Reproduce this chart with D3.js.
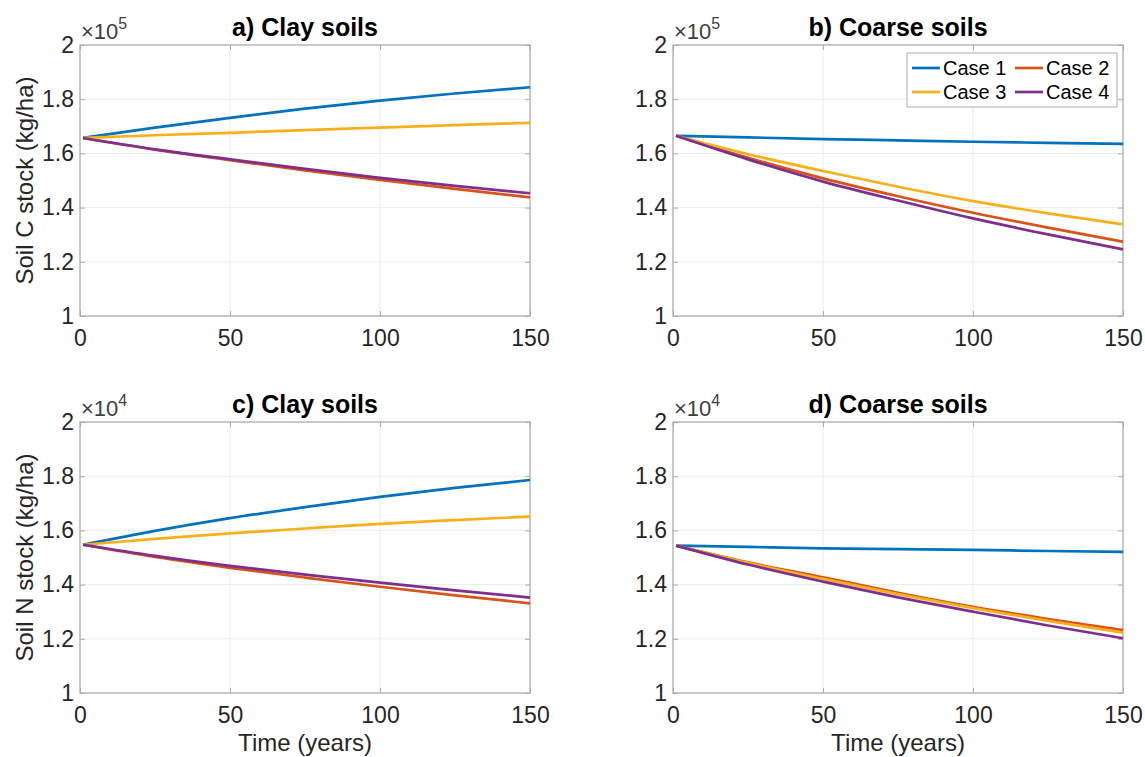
<!DOCTYPE html>
<html>
<head>
<meta charset="utf-8">
<script src="https://cdn.jsdelivr.net/npm/d3@7"></script>
<style>
  html, body { margin: 0; padding: 0; background: #fff; }
  svg { display: block; font-family: "Liberation Sans", Arial, Helvetica, sans-serif; }
</style>
</head>
<body>
<script>
// ---------------- DATA ----------------
const years = [1, 25, 50, 75, 100, 125, 150];
const caseNames = ["Case 1", "Case 2", "Case 3", "Case 4"];
const caseColors = ["#0072BD", "#D95319", "#F7B01C", "#7E2F8E"];
const panelTitles = ["a) Clay soils", "b) Coarse soils", "c) Clay soils", "d) Coarse soils"];
const panelExponents = [5, 5, 4, 4];
const yTickValues = [1, 1.2, 1.4, 1.6, 1.8, 2];
const xTickValues = [0, 50, 100, 150];
const yLabels = ["Soil C stock (kg/ha)", "", "Soil N stock (kg/ha)", ""];
const xLabel = "Time (years)";

// values shown in units of 10^exponent
const clayC_case1 = [1.657, 1.695, 1.731, 1.765, 1.795, 1.821, 1.844];
const clayC_case2 = [1.657, 1.614, 1.575, 1.537, 1.502, 1.469, 1.438];
const clayC_case3 = [1.657, 1.667, 1.676, 1.686, 1.695, 1.704, 1.713];
const clayC_case4 = [1.657, 1.615, 1.578, 1.543, 1.510, 1.480, 1.453];

const coarseC_case1 = [1.665, 1.659, 1.653, 1.648, 1.643, 1.639, 1.635];
const coarseC_case2 = [1.665, 1.584, 1.508, 1.442, 1.381, 1.326, 1.274];
const coarseC_case3 = [1.665, 1.597, 1.535, 1.477, 1.424, 1.379, 1.338];
const coarseC_case4 = [1.665, 1.578, 1.496, 1.426, 1.360, 1.301, 1.246];

const clayN_case1 = [1.547, 1.598, 1.645, 1.686, 1.724, 1.757, 1.786];
const clayN_case2 = [1.547, 1.502, 1.462, 1.426, 1.392, 1.360, 1.331];
const clayN_case3 = [1.547, 1.569, 1.589, 1.607, 1.624, 1.638, 1.651];
const clayN_case4 = [1.547, 1.506, 1.469, 1.437, 1.407, 1.379, 1.352];

const coarseN_case1 = [1.544, 1.539, 1.534, 1.531, 1.528, 1.524, 1.521];
const coarseN_case2 = [1.544, 1.482, 1.427, 1.370, 1.318, 1.273, 1.232];
const coarseN_case3 = [1.544, 1.480, 1.421, 1.365, 1.313, 1.266, 1.223];
const coarseN_case4 = [1.544, 1.474, 1.411, 1.353, 1.300, 1.249, 1.202];

const panelSeries = [
  [clayC_case1, clayC_case2, clayC_case3, clayC_case4],
  [coarseC_case1, coarseC_case2, coarseC_case3, coarseC_case4],
  [clayN_case1, clayN_case2, clayN_case3, clayN_case4],
  [coarseN_case1, coarseN_case2, coarseN_case3, coarseN_case4]
];

// ---------------- LAYOUT ----------------
const W = 1145, H = 757;
const colLeft = [80, 673], rowTop = [45, 422];
const pw = 450, ph = 271;
const textColor = "#262626";
const boxColor = "#ababab";
const gridColor = "#ebebeb";

const svg = d3.select("body").append("svg").attr("width", W).attr("height", H);

panelSeries.forEach((series, i) => {
  const left = colLeft[i % 2], top = rowTop[Math.floor(i / 2)];
  const x = d3.scaleLinear().domain([0, 150]).range([left, left + pw]);
  const y = d3.scaleLinear().domain([1, 2]).range([top + ph, top]);
  const g = svg.append("g");

  // grid
  g.append("g").selectAll("line").data(xTickValues).join("line")
    .attr("x1", d => x(d)).attr("x2", d => x(d)).attr("y1", top).attr("y2", top + ph)
    .attr("stroke", gridColor).attr("stroke-width", 1);
  g.append("g").selectAll("line").data(yTickValues).join("line")
    .attr("y1", d => y(d)).attr("y2", d => y(d)).attr("x1", left).attr("x2", left + pw)
    .attr("stroke", gridColor).attr("stroke-width", 1);

  // axes
  const fmt = d => d3.format("")(+d.toFixed(1));
  const ax = [
    g.append("g").attr("transform", `translate(0,${top + ph})`)
      .call(d3.axisBottom(x).tickValues(xTickValues).tickSize(-5).tickPadding(14).tickFormat(d3.format("d"))),
    g.append("g").attr("transform", `translate(${left},0)`)
      .call(d3.axisLeft(y).tickValues(yTickValues).tickSize(-5).tickPadding(6).tickFormat(fmt)),
    g.append("g").attr("transform", `translate(0,${top})`)
      .call(d3.axisTop(x).tickValues(xTickValues).tickSize(-5).tickFormat("")),
    g.append("g").attr("transform", `translate(${left + pw},0)`)
      .call(d3.axisRight(y).tickValues(yTickValues).tickSize(-5).tickFormat(""))
  ];
  ax.forEach(a => {
    a.select(".domain").remove();
    a.selectAll(".tick line").attr("stroke", boxColor);
    a.selectAll(".tick text").attr("fill", textColor).style("font-size", "23px")
      .style("font-family", '"Liberation Sans", Arial, Helvetica, sans-serif');
  });

  // box
  g.append("rect").attr("x", left).attr("y", top).attr("width", pw).attr("height", ph)
    .attr("fill", "none").attr("stroke", boxColor).attr("stroke-width", 1.2);

  // lines
  const line = d3.line().x((d, k) => x(years[k])).y(d => y(d)).curve(d3.curveMonotoneX);
  series.forEach((s, k) => {
    g.append("path").datum(s).attr("d", line).attr("fill", "none")
      .attr("stroke", caseColors[k]).attr("stroke-width", 2.7).attr("stroke-linejoin", "round");
  });

  // exponent label
  const ex = g.append("text").attr("x", left + 1).attr("y", top - 6)
    .attr("fill", "#404040").attr("font-size", 22);
  ex.append("tspan").attr("font-size", 22).text("\u00d710");
  ex.append("tspan").attr("dy", -10).attr("font-size", 16).text(panelExponents[i]);

  // title
  g.append("text").attr("x", left + pw / 2).attr("y", top - 9).attr("text-anchor", "middle")
    .attr("fill", "#000").style("font-size", "25px").style("font-weight", "bold").text(panelTitles[i]);

  // y label
  if (yLabels[i]) {
    g.append("text").attr("transform", `translate(25,${top + ph / 2}) rotate(-90)`)
      .attr("text-anchor", "middle").attr("dy", "0.35em").attr("fill", textColor)
      .style("font-size", "24px").text(yLabels[i]);
  }
  // x label
  if (i >= 2) {
    g.append("text").attr("x", left + pw / 2).attr("y", top + ph + 58).attr("text-anchor", "middle")
      .attr("fill", textColor).style("font-size", "24px").text(xLabel);
  }

  // legend in panel b
  if (i === 1) {
    const lg = g.append("g");
    lg.append("rect").attr("x", 907).attr("y", 53).attr("width", 210).attr("height", 54)
      .attr("fill", "#fff").attr("stroke", boxColor).attr("stroke-width", 1);
    const colX = [912, 1015], rowY = [68, 92];
    caseNames.forEach((name, k) => {
      const cx = colX[k % 2], cy = rowY[Math.floor(k / 2)];
      lg.append("line").attr("x1", cx).attr("x2", cx + 28).attr("y1", cy).attr("y2", cy)
        .attr("stroke", caseColors[k]).attr("stroke-width", 2.7);
      lg.append("text").attr("x", cx + 31).attr("y", cy).attr("dy", "0.35em")
        .attr("fill", "#000").style("font-size", "20px").text(name);
    });
  }
});
</script>
</body>
</html>
